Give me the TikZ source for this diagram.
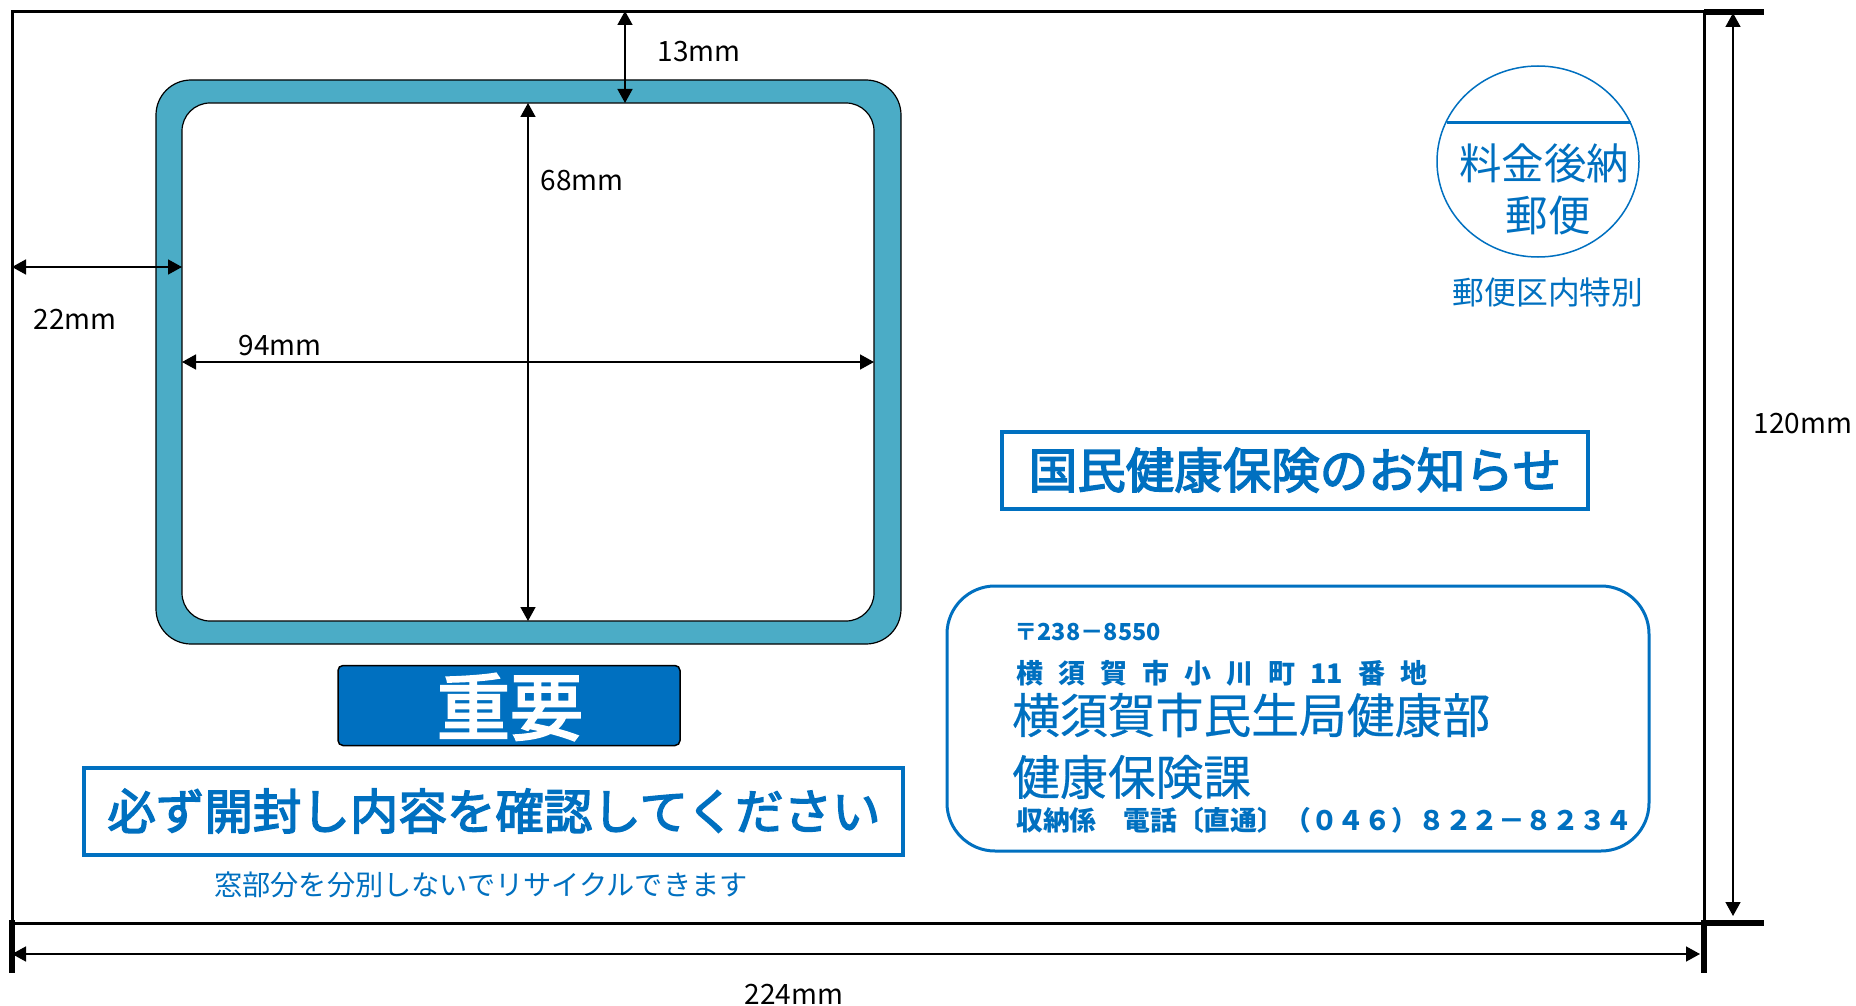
\documentclass[tikz,border=0pt]{standalone}
\usepackage{fontspec}
\usetikzlibrary{arrows.meta,calc,shapes.geometric}
\setmainfont{Noto Sans CJK JP}
\newfontfamily\medf[FakeBold=3]{Noto Sans CJK JP}
\newfontfamily\semif[FakeBold=0.5]{Noto Sans CJK JP}
\definecolor{jpblue}{HTML}{0070C0}
\definecolor{frameblue}{HTML}{4BACC6}
\newcommand{\fsz}[1]{\fontsize{#1pt}{#1pt}\selectfont}
\newcommand{\gapA}{\hspace{15pt}}
\tikzset{
  px/.style={x=1pt,y=-1pt},
  boxed/.style={rectangle,draw,inner sep=0pt,outer sep=0pt,anchor=center},
  dim/.style={draw=black,line width=1.5pt,{Triangle[length=14pt,width=15pt]}-{Triangle[length=14pt,width=15pt]}},
  tick/.style={draw=black,line width=6pt},
  dimlabel/.style={inner sep=0pt,text=black,font=\fsz{28}},
  bluetext/.style={inner sep=0pt,text=jpblue},
  lefttext/.style={bluetext,anchor=west},
  bluebox/.style={boxed,draw=jpblue,line width=4pt,fill=white}
}
\begin{document}
\begin{tikzpicture}[px]
\useasboundingbox (0,0) rectangle (1856,1006);
\fill[white] (0,0) rectangle (1856,1006);
% sheet
\node[boxed,draw=black,line width=3pt,minimum width=1692pt,minimum height=911pt] (sheet) at (858,467.5) {};
% window frame
\node[boxed,draw=black,line width=1.2pt,fill=frameblue,rounded corners=35pt,minimum width=745pt,minimum height=564pt] (frame) at (528.5,362) {};
\node[boxed,draw=black,line width=1.2pt,fill=white,rounded corners=28pt,minimum width=692pt,minimum height=518pt] (window) at (528,362) {};
% ticks
\coordinate (trA) at (sheet.north east);
\coordinate (trB) at ($(sheet.north east)+(60,0)$);
\coordinate (brA) at (sheet.south east);
\coordinate (brB) at ($(sheet.south east)+(60,0)$);
\coordinate (brC) at ($(sheet.south east)+(0,50)$);
\coordinate (blA) at (sheet.south west);
\coordinate (blB) at ($(sheet.south west)+(0,50)$);
\draw[tick] (trA) -- (trB);
\draw[tick] (brA) -- (brB);
\draw[tick] ($(brA)+(0,-3)$) -- (brC);
\draw[tick] ($(blA)+(0,-3)$) -- (blB);
% dimension lines
\coordinate (d13a) at (625,11);
\coordinate (d13b) at (625,103);
\draw[dim] (d13a) -- (d13b);
\draw[dim] (window.north) -- (window.south);
\draw[dim] (window.west) -- (window.east);
\coordinate (d22a) at (12,267);
\coordinate (d22b) at (182,267);
\draw[dim] (d22a) -- (d22b);
\coordinate (d224a) at (12,954);
\coordinate (d224b) at (1700,954);
\draw[dim] (d224a) -- (d224b);
\coordinate (d120a) at (1733,13);
\coordinate (d120b) at (1733,916);
\draw[dim] (d120a) -- (d120b);
\node[dimlabel] (l13) at (699,52) {13mm};
\node[dimlabel] (l68) at (582,181) {68mm};
\node[dimlabel] (l22) at (75,319) {22mm};
\node[dimlabel] (l94) at (280,346) {94mm};
\node[dimlabel] (l120) at (1803,424) {120mm};
\node[dimlabel] (l224) at (794,994) {224mm};
% important
\node[boxed,draw=black,line width=1.5pt,fill=jpblue,rounded corners=5pt,minimum width=342pt,minimum height=80pt] (imp) at (509,705.5) {};
\node[inner sep=0pt,text=white,font=\fsz{73}\medf] (impt) at (510,707) {重要};
\node[bluebox,minimum width=819pt,minimum height=87pt] (must) at (493.5,811.5) {};
\node[bluetext,font=\fsz{48.5}\medf] (mustt) at (494,811) {必ず開封し内容を確認してください};
\node[bluetext,font=\fsz{28.2}] (recycle) at (481,885) {窓部分を分別しないでリサイクルできます};
% stamp
\node[ellipse,draw=jpblue,line width=1.5pt,minimum width=202pt,minimum height=191pt,inner sep=0pt] (stamp) at (1538,161.5) {};
\coordinate (sla) at (1447,123);
\coordinate (slb) at (1631,123);
\draw[draw=jpblue,line width=3pt] (sla) -- (slb);
\node[bluetext,font=\fsz{42.5}] (s1) at (1544,163) {料金後納};
\node[bluetext,font=\fsz{42.5}] (s2) at (1548,215) {郵便};
\node[bluetext,font=\fsz{31.8}] (s3) at (1548,292) {郵便区内特別};
% notice
\node[bluebox,minimum width=586pt,minimum height=77pt] (notice) at (1295,470) {};
\node[bluetext,font=\fsz{48.5}\medf] (noticet) at (1295,470) {国民健康保険のお知らせ};
% address
\node[boxed,draw=jpblue,line width=3pt,rounded corners=48pt,minimum width=702pt,minimum height=265pt,fill=white] (addr) at (1298,718.5) {};
\node[lefttext,font=\fsz{23.4}\bfseries] (a1) at (1014,632) {〒238－8550};
\node[lefttext,font=\fsz{27}\bfseries] (a2) at (1016,673) {横\gapA 須\gapA 賀\gapA 市\gapA 小\gapA 川\gapA 町\gapA 11\gapA 番\gapA 地};
\node[lefttext,font=\fsz{47.8}\semif] (a3) at (1012,715) {横須賀市民生局健康部};
\node[lefttext,font=\fsz{47.8}\semif] (a4) at (1012,777) {健康保険課};
\node[lefttext,font=\fsz{26.8}\bfseries] (a5) at (1016,820) {収納係　電話〔直通〕（０４６）８２２－８２３４};
\end{tikzpicture}
\end{document}
